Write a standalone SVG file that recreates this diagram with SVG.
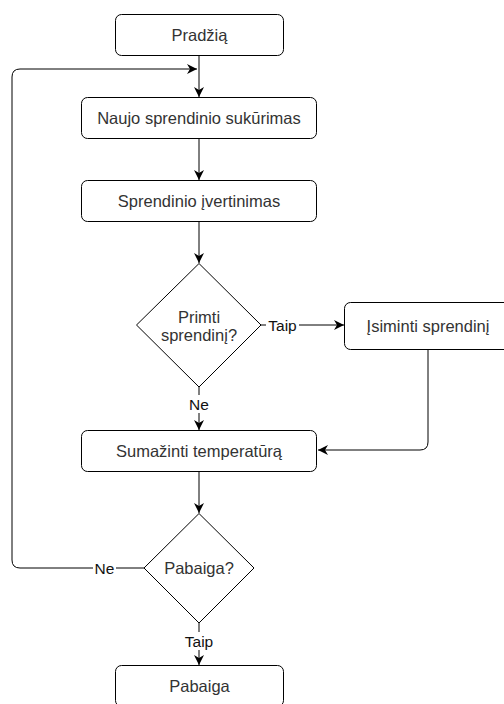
<svg xmlns="http://www.w3.org/2000/svg" width="504" height="704" viewBox="0 0 504 704">
<defs>
<marker id="arr" viewBox="0 0 10 10" refX="10" refY="5" markerWidth="10" markerHeight="10" markerUnits="userSpaceOnUse" orient="auto">
<path d="M0,0 L10,5 L0,10 L3,5 Z" fill="#000"/>
</marker>
<style>
.n{fill:#fff;stroke:#000;stroke-width:1}
.t{font-family:"Liberation Sans",Arial,sans-serif;font-size:16.5px;fill:#333;text-anchor:middle}
.e{fill:none;stroke:#000;stroke-width:1;marker-end:url(#arr)}
.l{fill:none;stroke:#000;stroke-width:1}
.lb{font-family:"Liberation Sans",Arial,sans-serif;font-size:15.5px;fill:#111;text-anchor:middle}
</style>
</defs>
<rect width="504" height="704" fill="#fff"/>
<g id="connectors">
<path class="e" d="M199,55 V97"/>
<path class="e" d="M105,568 H20 Q12,568 12,560 V77 Q12,69 20,69 H197"/>
<path class="e" d="M199,138 V180"/>
<path class="e" d="M199,222 V263"/>
<path class="e" d="M261,325 H344"/>
<path class="e" d="M199,387 V430"/>
<path class="e" d="M428,350 V442 Q428,450 420,450 H318"/>
<path class="e" d="M199,471 V513"/>
<path class="l" d="M144,568 H105"/>
<path class="e" d="M199,623 V665"/>
<rect x="266" y="316" width="33" height="18" fill="#fff"/>
<text class="lb" x="282.5" y="331">Taip</text>
<rect x="189" y="395" width="21" height="18" fill="#fff"/>
<text class="lb" x="199" y="410">Ne</text>
<rect x="93" y="559" width="23" height="18" fill="#fff"/>
<text class="lb" x="104.5" y="574">Ne</text>
<rect x="182" y="632" width="34" height="18" fill="#fff"/>
<text class="lb" x="199" y="647">Taip</text>
</g>
<g id="start"><rect class="n" x="115.5" y="14.5" width="168" height="41" rx="6"/><text class="t" x="199.5" y="40.5">Pradžią</text></g>
<g id="naujo"><rect class="n" x="81.5" y="97.5" width="235" height="41" rx="6"/><text class="t" x="199" y="123.5">Naujo sprendinio sukūrimas</text></g>
<g id="vertinimas"><rect class="n" x="81.5" y="180.5" width="235" height="41" rx="6"/><text class="t" x="199" y="206.5">Sprendinio įvertinimas</text></g>
<g id="primti"><path class="n" d="M199,263.5 L261,325 L199,387 L136.5,325 Z"/><text class="t" x="199" y="323">Primti</text><text class="t" x="199" y="341">sprendinį?</text></g>
<g id="isiminti"><rect class="n" x="344.5" y="302.5" width="168" height="47" rx="6"/><text class="t" x="428" y="332">Įsiminti sprendinį</text></g>
<g id="sumazinti"><rect class="n" x="81.5" y="430.5" width="235" height="41" rx="6"/><text class="t" x="199" y="456.5">Sumažinti temperatūrą</text></g>
<g id="pabaiga-q"><path class="n" d="M199,513.5 L254,568 L199,623 L144,568 Z"/><text class="t" x="199" y="574">Pabaiga?</text></g>
<g id="end"><rect class="n" x="115.5" y="665.5" width="168" height="41" rx="6"/><text class="t" x="199.5" y="691.5">Pabaiga</text></g>
</svg>
